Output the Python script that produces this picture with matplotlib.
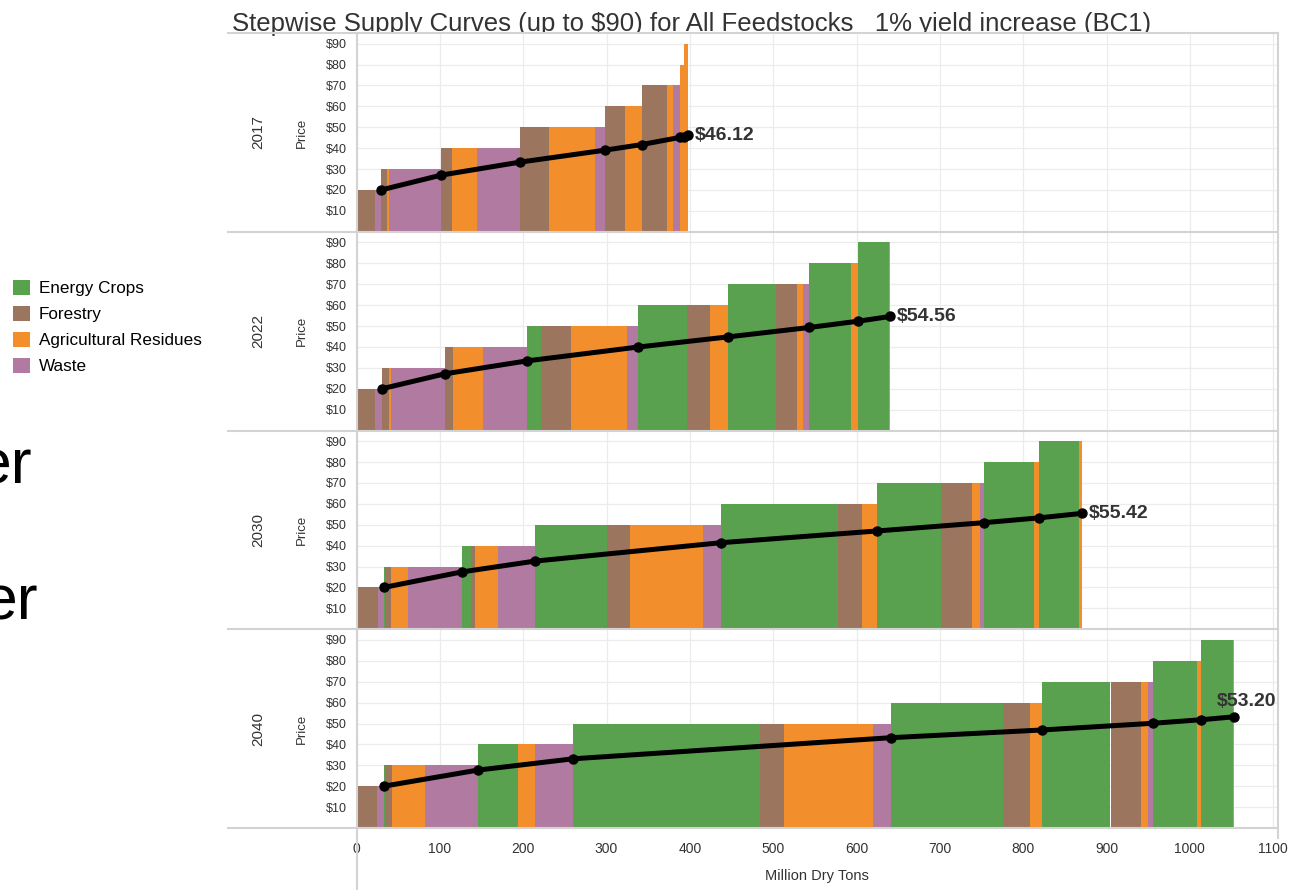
import numpy as np
import matplotlib.pyplot as plt
from matplotlib.patches import Patch
from matplotlib.lines import Line2D
from matplotlib.ticker import FuncFormatter

plt.rcParams['font.family'] = ['Liberation Sans', 'DejaVu Sans']

years = ['2017', '2022', '2030', '2040']
feedstocks = ['Energy Crops', 'Forestry', 'Agricultural Residues', 'Waste']
colors = ['#59a14f', '#9c755f', '#f28e2b', '#b07aa1']
price_levels = [20, 30, 40, 50, 60, 70, 80, 90]

# million dry tons added at each price level
# columns: energy crops, forestry, ag residues, waste
q2017 = [
    [0, 21.6, 0, 8.0],
    [0, 6.4, 2.4, 63.2],
    [0, 13.2, 29.2, 52.0],
    [0, 34.8, 55.2, 11.6],
    [0, 24.0, 20.4, 0],
    [0, 30.8, 6.8, 8.0],
    [0, 0, 5.2, 0],
    [0, 0, 5.2, 0],
]
q2022 = [
    [0, 22.3, 0, 8.4],
    [0, 8.3, 2.5, 64.3],
    [0, 9.6, 36.8, 52.2],
    [16.7, 36.8, 66.7, 12.6],
    [59.3, 28.0, 21.7, 0],
    [57.6, 25.1, 6.3, 8.3],
    [50.1, 0, 8.4, 0],
    [36.7, 0, 1.6, 0],
]
q2030 = [
    [0, 25.6, 0, 7.2],
    [1.2, 6.8, 20.8, 64.4],
    [11.6, 4.8, 27.2, 44.4],
    [86.8, 27.2, 87.6, 21.6],
    [140.0, 29.2, 17.6, 0],
    [77.2, 37.2, 9.6, 5.2],
    [59.2, 0, 6.8, 0],
    [48.0, 0, 2.8, 0],
]
q2040 = [
    [0, 24.8, 0, 8.0],
    [1.6, 8.4, 38.8, 64.0],
    [48.0, 0, 20.4, 45.6],
    [224.4, 28.8, 107.2, 20.8],
    [135.2, 32.0, 14.8, 0],
    [82.0, 36.8, 8.0, 6.0],
    [53.2, 0, 4.8, 0],
    [38.4, 0, 1.0, 0],
]

# average price line
avg2017 = [20, 27.1, 33.3, 39.0, 41.7, 45.1, 45.5, 46.12]
avg2022 = [20, 27.1, 33.3, 39.9, 44.8, 49.3, 52.3, 54.56]
avg2030 = [20, 27.4, 32.6, 41.4, 47.0, 51.0, 53.3, 55.42]
avg2040 = [20, 27.7, 33.1, 43.2, 46.9, 50.1, 51.8, 53.20]

end_labels = ['$46.12', '$54.56', '$55.42', '$53.20']

quantities = [q2017, q2022, q2030, q2040]
averages = [avg2017, avg2022, avg2030, avg2040]

W, H = 1289, 890
fig = plt.figure(figsize=(12.89, 8.9), dpi=100)


def fx(px):
    return px / W


def fy(py):
    return 1 - py / H


panel_top = 33
panel_h = 198.75
left, right = 356.5, 1278
line_col = '#d3d3d3'
txt_col = '#333333'

for i in range(4):
    top = panel_top + i * panel_h
    ax = fig.add_axes([fx(left), fy(top + panel_h), fx(right) - fx(left), panel_h / H])

    start = 0
    ends = []
    for price, row in zip(price_levels, quantities[i]):
        for k, w in enumerate(row):
            if w > 0:
                ax.bar(start, price, width=w, align='edge', color=colors[k], linewidth=0)
                start += w
        ends.append(start)

    ax.plot(ends, averages[i], color='black', lw=3.6, marker='o', ms=6.5, zorder=5)

    lab = end_labels[i].replace('$', r'\$')
    if i < 3:
        ax.annotate(lab, (ends[-1], averages[i][-1]), xytext=(5, 0), textcoords='offset points',
                    ha='left', va='center', fontsize=14, fontweight='bold', color=txt_col)
    else:
        ax.annotate(lab, (ends[-1], averages[i][-1]), xytext=(9, 5), textcoords='offset points',
                    ha='center', va='bottom', fontsize=14, fontweight='bold', color=txt_col)

    ax.set_xlim(0, (right - left) * 1.2)
    ax.set_ylim(0, panel_h / 2.09)
    ax.set_yticks(range(10, 100, 10))
    ax.yaxis.set_major_formatter(FuncFormatter(lambda v, p: r'\$%d' % v))
    ax.set_xticks(range(0, 1101, 100))
    ax.grid(color='#ececec', lw=0.9)
    ax.set_axisbelow(True)
    for s in ax.spines.values():
        s.set_visible(False)
    ax.tick_params(axis='y', length=0, pad=7, labelsize=9, labelcolor=txt_col)
    ax.tick_params(axis='x', length=0, pad=10, labelsize=10, labelcolor=txt_col,
                   labelbottom=(i == 3))

    mid = top + panel_h / 2
    fig.text(fx(302), fy(mid), 'Price', rotation=90, fontsize=9.5, ha='center', va='center',
             color=txt_col)
    fig.text(fx(258), fy(mid), years[i], rotation=90, fontsize=11, ha='center', va='center',
             color=txt_col)

# panel separators and borders
for yy in [panel_top + j * panel_h for j in range(5)]:
    fig.add_artist(Line2D([fx(228), fx(1278)], [fy(yy), fy(yy)], color=line_col, lw=1.5))
fig.add_artist(Line2D([fx(357), fx(357)], [fy(33), fy(890)], color=line_col, lw=1.5))
fig.add_artist(Line2D([fx(1278), fx(1278)], [fy(33), fy(838)], color=line_col, lw=1.5))

fig.text(fx(817), fy(876), 'Million Dry Tons', fontsize=10.5, ha='center', va='center',
         color=txt_col)

# title sits behind the panels so its descenders get cut off
fig.text(fx(232), fy(31), r'Stepwise Supply Curves (up to \$90) for All Feedstocks   1% yield increase (BC1)',
         fontsize=18.5, color=txt_col, va='baseline', zorder=-1)

handles = [Patch(facecolor=c, edgecolor='none') for c in colors]
fig.legend(handles, feedstocks, loc='upper left', bbox_to_anchor=(fx(13), fy(280)),
           frameon=False, fontsize=12.3, handlelength=1.0, handleheight=1.0,
           handletextpad=0.5, labelspacing=0.55, borderaxespad=0, borderpad=0)

# leftover slide text at the left edge
fig.text(fx(-24), fy(483), 'er', fontsize=45, va='baseline', color='black')
fig.text(fx(-18), fy(620), 'er', fontsize=45, va='baseline', color='black')

fig.savefig('out.png', dpi=100)
